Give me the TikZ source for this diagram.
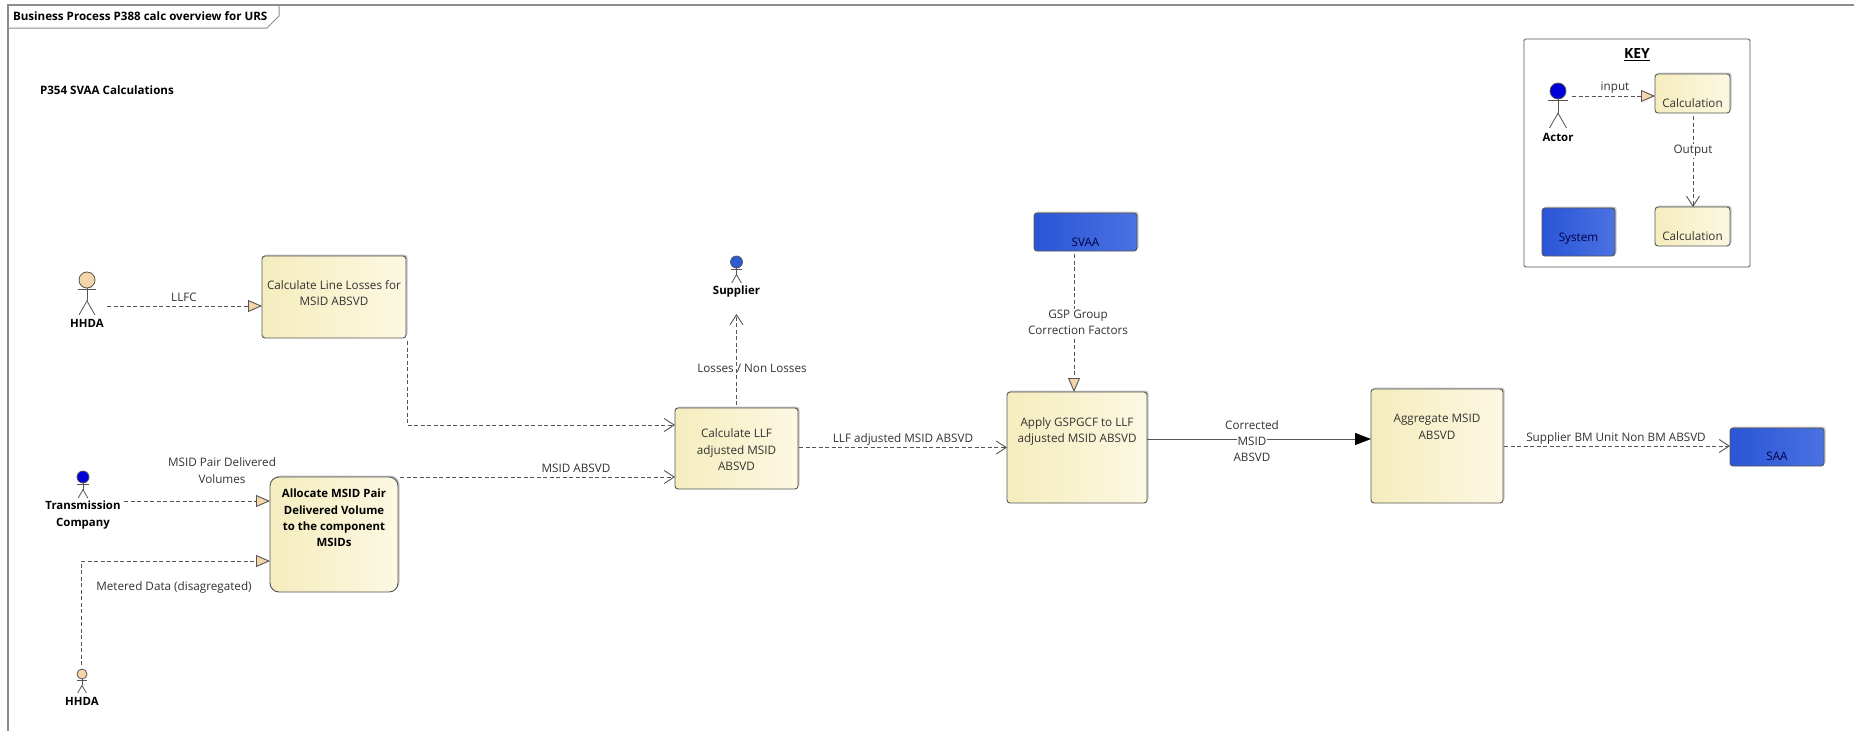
\documentclass[tikz,border=0pt]{standalone}
\usepackage{fontspec}
\setmainfont{Open Sans}
\usetikzlibrary{arrows.meta, shadows}
\definecolor{calcL}{HTML}{F5EDBE}
\definecolor{calcR}{HTML}{FCF8E2}
\definecolor{sysL}{HTML}{2A55D6}
\definecolor{sysR}{HTML}{4A72E2}
\definecolor{tanfill}{HTML}{F6D5A8}
\definecolor{supblue}{HTML}{2F5BD2}
\definecolor{inkline}{HTML}{555555}
\definecolor{inktext}{HTML}{333333}
\tikzset{
    every node/.style = {outer sep=0, inner sep=0, font=\fontsize{11.7}{16.3}\selectfont, text=inktext, align=center},
    rectbox/.style = {draw=inkline, rounded corners=3, line width=0.9,
        drop shadow={shadow xshift=1.5, shadow yshift=-1.5, fill=black, opacity=0.22}},
    calcbox/.style = {rectbox, left color=calcL, right color=calcR},
    sysbox/.style = {rectbox, left color=sysL, right color=sysR, text=black!75!blue},
    actorname/.style = {font=\fontsize{11.4}{16.3}\selectfont\bfseries, text=black},
    titletext/.style = {anchor=west, text=black, font=\fontsize{11.6}{14}\selectfont\bfseries},
    flow/.style = {draw=inkline, line width=0.9, dash pattern=on 4pt off 2.5pt},
    flowin/.style = {flow, -{Triangle[length=14,width=12,fill=tanfill,color=inkline]}},
    flowout/.style = {flow, -{Straight Barb[length=10,width=13]}},
    solidflow/.style = {draw=inkline, line width=1, -{Triangle[length=16,width=12,fill=black,color=black]}},
}
% head centre, head radius, figure height, head colour
\newcommand{\actorfig}[4]{
    \begin{scope}[shift={#1}, draw=inkline, line width=0.8]
        \draw[fill=#4] (0,0) circle (#2);
        \draw (0,#2) -- (0,{0.6*#3});
        \draw ({-0.27*#3},{#2+0.05*#3}) -- ({0.27*#3},{#2+0.05*#3});
        \draw ({-0.23*#3},#3) -- (0,{0.6*#3}) -- ({0.23*#3},#3);
    \end{scope}
}
\begin{document}
\begin{tikzpicture}[x=1pt, y=-1pt]
    \useasboundingbox (0,0) rectangle (1854,731);
    \fill[white] (0,0) rectangle (1854,731);

    % frame
    \draw[draw=black!45, line width=1.4] (1854,5) -- (8,5) -- (8,731);
    \draw[draw=black!45, line width=1] (279,5) -- (279,16) -- (267,28) -- (8,28);
    \node[titletext] (frameTitle) at (13,16) {Business Process P388 calc overview for URS};
    \node[titletext] (groupTitle) at (40,90) {P354 SVAA Calculations};

    % calculations
    \node[calcbox, minimum width=144, minimum height=82] (lossBox) at (334,297) {Calculate Line Losses for\\MSID ABSVD\\[-9pt]\mbox{}};
    \node[calcbox, minimum width=128, minimum height=115, rounded corners=9, actorname] (allocBox) at (334,534.5) {Allocate MSID Pair\\Delivered Volume\\to the component\\MSIDs\\[17pt]\mbox{}};
    \node[calcbox, minimum width=123, minimum height=81] (llfBox) at (736.5,448.5) {\mbox{}\\[-5pt]Calculate LLF\\adjusted MSID\\ABSVD};
    \node[calcbox, minimum width=140, minimum height=111] (applyBox) at (1077,447.5) {Apply GSPGCF to LLF\\adjusted MSID ABSVD\\[19pt]\mbox{}};
    \node[calcbox, minimum width=132, minimum height=114] (aggBox) at (1437,446) {Aggregate MSID\\ABSVD\\[22pt]\mbox{}};
    \node[sysbox, minimum width=103, minimum height=38] (svaaBox) at (1085.5,232) {\mbox{}\\[13pt]SVAA};
    \node[sysbox, minimum width=94, minimum height=38] (saaBox) at (1777,447) {\mbox{}\\[11pt]SAA};

    % actors
    \actorfig{(87,280)}{8}{35}{tanfill}
    \node[actorname] (hhdaA) at (87,323) {HHDA};
    \actorfig{(83,477)}{6}{21}{blue!85!black}
    \node[actorname] (transCo) at (83,515) {Transmission\\Company};
    \actorfig{(82,674)}{5}{19}{tanfill}
    \node[actorname] (hhdaB) at (82,701) {HHDA};
    \actorfig{(736.5,262)}{6}{21}{supblue}
    \node[actorname] (supplier) at (736.5,292) {Supplier};

    % connectors
    \draw[flowin] ([shift={(20,-17)}]hhdaA.center) -- ([shift={(0,9)}]lossBox.west);
    \draw[flowin] ([shift={(41,-14)}]transCo.center) -- ([shift={(0,-33.5)}]allocBox.west);
    \draw[flowin] ([shift={(-1,-36)}]hhdaB.center) |- ([shift={(0,26.5)}]allocBox.west);
    \draw[flowout] ([shift={(1,3)}]lossBox.south east) |- ([shift={(0,-23.5)}]llfBox.west);
    \draw[flowout] ([shift={(2,-57.5)}]allocBox.east) -- ([shift={(0,28.5)}]llfBox.west);
    \draw[flowout] ([shift={(0,-3)}]llfBox.north) -- ([shift={(0,22)}]supplier.center);
    \draw[flowout] ([shift={(1,-1)}]llfBox.east) -- (applyBox.west);
    \draw[flowin] ([shift={(-11.5,3)}]svaaBox.south) -- ([shift={(-3,0)}]applyBox.north);
    \draw[solidflow] ([shift={(0,-8.5)}]applyBox.east) -- ([shift={(0,-7)}]aggBox.west);
    \draw[flowout] ([shift={(1,0)}]aggBox.east) -- ([shift={(0,-1)}]saaBox.west);

    % connector labels
    \node (llfcText) at (184,297) {LLFC};
    \node (pairText) at (222,470.5) {MSID Pair Delivered\\Volumes};
    \node (meterText) at (174,587) {Metered Data (disagregated)};
    \node (absvdText) at (576,468) {MSID ABSVD};
    \node (lossText) at (752,368) {Losses / Non Losses};
    \node (adjText) at (903,439) {LLF adjusted MSID ABSVD};
    \node[fill=white, inner ysep=1] (gspText) at (1078,322.5) {GSP Group\\Correction Factors};
    \fboxsep=1pt
    \node (corrText) at (1252,441) {Corrected\\\colorbox{white}{MSID}\\ABSVD};
    \node (bmText) at (1616,438) {Supplier BM Unit Non BM ABSVD};

    % key
    \node[draw=inkline, line width=0.9, rounded corners=1.5, fill=white, minimum width=226, minimum height=228] (keyBox) at (1637,153) {};
    \node[actorname, font=\fontsize{14}{16}\selectfont\bfseries] (keyTitle) at (1637,55) {\underline{KEY}};
    \node[calcbox, minimum width=75, minimum height=39] (keyCalcA) at (1692.5,93.5) {\mbox{}\\[12pt]Calculation};
    \node[calcbox, minimum width=75, minimum height=39] (keyCalcB) at (1692.5,226.5) {\mbox{}\\[12pt]Calculation};
    \node[sysbox, minimum width=73, minimum height=48] (keySys) at (1578.5,232) {\mbox{}\\[5pt]System};
    \actorfig{(1558,91)}{8}{37}{blue!85!black}
    \node[actorname] (keyActor) at (1558,137) {Actor};
    \draw[flowin] ([shift={(14,-41)}]keyActor.center) -- ([shift={(0,2.5)}]keyCalcA.west);
    \draw[flowout] ([shift={(0.5,3)}]keyCalcA.south) -- ([shift={(0.5,0)}]keyCalcB.north);
    \node (inputText) at (1615,88) {input};
    \node[fill=white, inner ysep=1] (outputText) at (1693,151) {Output};
\end{tikzpicture}
\end{document}
